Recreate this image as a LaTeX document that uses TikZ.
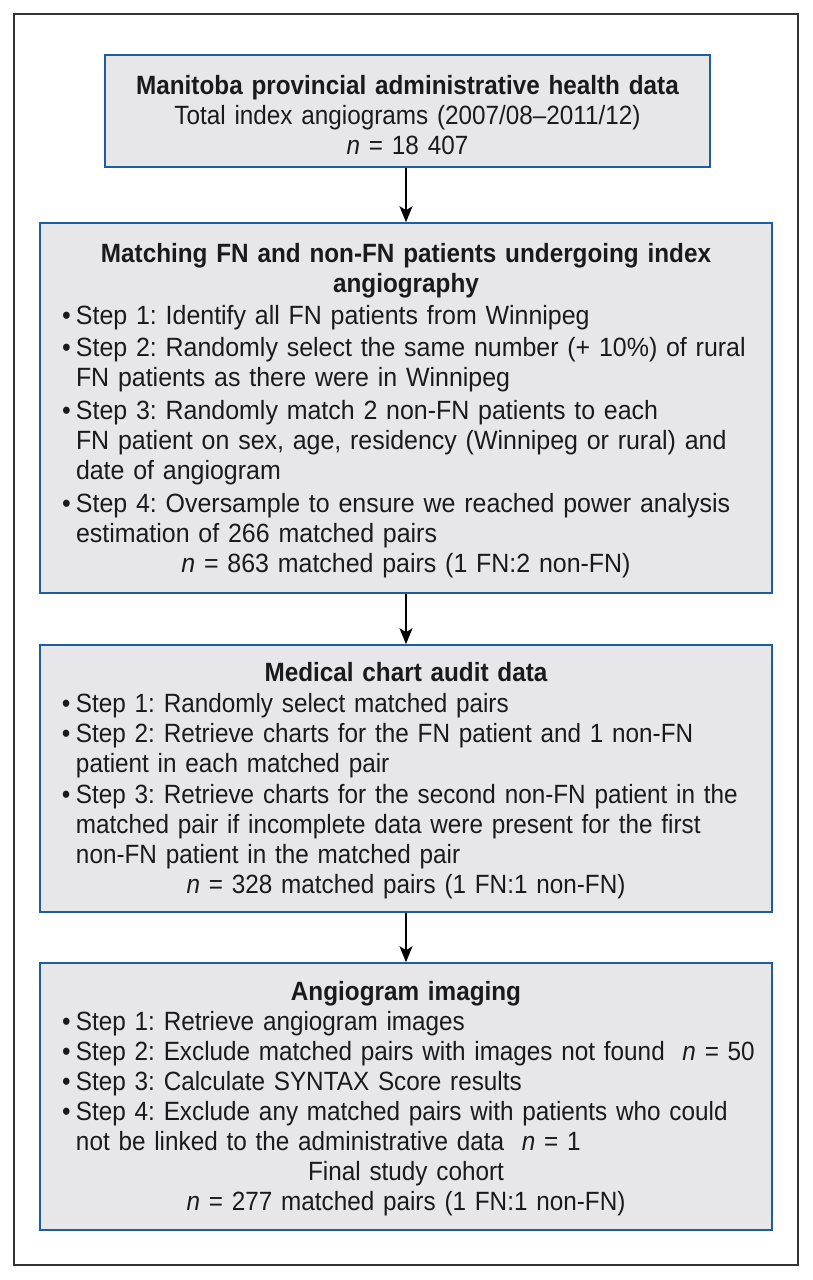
\documentclass[tikz,border=0pt]{standalone}
\usepackage{fontspec}
\setmainfont{Liberation Sans}
\newfontfamily\cond{Liberation Sans}[FakeStretch=0.92,Ligatures=TeX]
\newfontfamily\semicond{Liberation Sans}[FakeStretch=0.945,Ligatures=TeX]
\usetikzlibrary{arrows.meta}
\definecolor{boxblue}{HTML}{1F5E9E}
\definecolor{boxfill}{HTML}{E7E7EA}
\definecolor{framegray}{HTML}{333333}
\definecolor{textdark}{HTML}{1A1A1A}
\newcommand\ctr[1]{\makebox[\linewidth]{#1}}
\newcommand\bul{\hspace*{36pt}\makebox[14pt][l]{\textbullet}}
\newcommand\cont{\hspace*{50pt}}
\tikzset{
  flowbox/.style={draw=boxblue, line width=1.6pt, fill=boxfill, inner sep=0pt},
  boxtext/.style={anchor=base, inner sep=0pt, text width=760pt, align=left,
    text=textdark, font=\fontsize{26.4}{30}\selectfont\frenchspacing},
  flowarrow/.style={-{Stealth[length=16pt,width=13pt,inset=4pt]}, line width=1.2pt, black}
}
\begin{document}
\begin{tikzpicture}[x=1pt,y=-1pt]
\useasboundingbox (0,0) rectangle (813,1280);
\draw[framegray, line width=1.2pt] (14,14) rectangle (798,1265);
\node[flowbox, minimum width=605pt, minimum height=112pt] (b1) at (407.5,111) {};
\node[flowbox, minimum width=732pt, minimum height=370pt] (b2) at (406,408) {};
\node[flowbox, minimum width=732pt, minimum height=267pt] (b3) at (406,778.5) {};
\node[flowbox, minimum width=732pt, minimum height=267pt] (b4) at (406,1096.5) {};
\draw[flowarrow] (b2.north |- b1.south) -- (b2.north);
\draw[flowarrow] (b2.south) -- (b3.north);
\draw[flowarrow] (b3.south) -- (b4.north);
\node[boxtext] (t1) at (407.5,94) {\cond
\ctr{\bfseries Manitoba provincial administrative health data}\\
\ctr{Total index angiograms (2007/08--2011/12)}\\
\ctr{\textit{n} = 18 407}};
\node[boxtext] (t2) at (406,262) {%
\ctr{\cond\bfseries Matching FN and non-FN patients undergoing index}\\
\ctr{\cond\bfseries angiography}\\[2pt]
\semicond
\bul Step 1: Identify all FN patients from Winnipeg\\[2pt]
\bul Step 2: Randomly select the same number (+ 10\%) of rural\\
\cont FN patients as there were in Winnipeg\\[3pt]
\bul Step 3: Randomly match 2 non-FN patients to each\\
\cont FN patient on sex, age, residency (Winnipeg or rural) and\\
\cont date of angiogram\\[3pt]
\bul Step 4: Oversample to ensure we reached power analysis\\
\cont estimation of 266 matched pairs\\
\ctr{\textit{n} = 863 matched pairs (1 FN:2 non-FN)}};
\node[boxtext] (t3) at (406,681) {\cond
\ctr{\bfseries Medical chart audit data}\\[1pt]
\bul Step 1: Randomly select matched pairs\\
\bul Step 2: Retrieve charts for the FN patient and 1 non-FN\\
\cont patient in each matched pair\\[1pt]
\bul Step 3: Retrieve charts for the second non-FN patient in the\\
\cont matched pair if incomplete data were present for the first\\
\cont non-FN patient in the matched pair\\
\ctr{\textit{n} = 328 matched pairs (1 FN:1 non-FN)}};
\node[boxtext] (t4) at (406,1000) {\cond
\ctr{\bfseries Angiogram imaging}\\
\bul Step 1: Retrieve angiogram images\\
\bul Step 2: Exclude matched pairs with images not found\ \ \textit{n} = 50\\
\bul Step 3: Calculate SYNTAX Score results\\
\bul Step 4: Exclude any matched pairs with patients who could\\
\cont not be linked to the administrative data\ \ \textit{n} = 1\\
\ctr{Final study cohort}\\
\ctr{\textit{n} = 277 matched pairs (1 FN:1 non-FN)}};
\end{tikzpicture}
\end{document}
